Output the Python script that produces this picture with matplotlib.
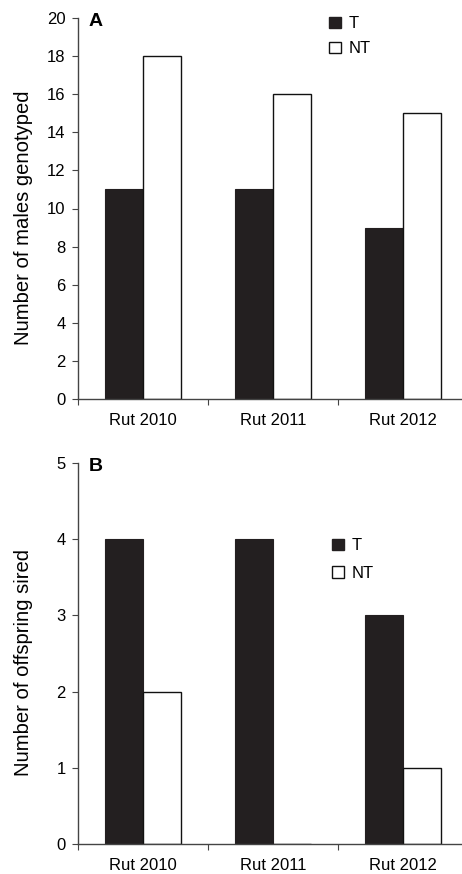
import matplotlib
matplotlib.use("Agg")
import matplotlib.pyplot as plt
from matplotlib.patches import Patch
import numpy as np

categories = ["Rut 2010", "Rut 2011", "Rut 2012"]
males_T = [11, 11, 9]
males_NT = [18, 16, 15]
offspring_T = [4, 4, 3]
offspring_NT = [2, 0, 1]

W, H = 462, 874
fig = plt.figure(figsize=(W/100, H/100), dpi=100)
plt.rcParams['font.family'] = ['Liberation Sans', 'DejaVu Sans']

dark = '#231f20'
bw = 38/130

def px(x0, y0, x1, y1):
    return [x0/W, 1 - y1/H, (x1-x0)/W, (y1-y0)/H]

def panel(rect, tvals, ntvals, ymax, ystep, ylabel, letter, leg_xy, lspace):
    ax = fig.add_axes(rect)
    x = np.arange(len(categories))
    ax.bar(x - bw/2, tvals, bw, color=dark, edgecolor=dark, linewidth=0.8, label='T')
    ax.bar(x + bw/2, ntvals, bw, color='white', edgecolor='#111111', linewidth=1.0, label='NT')
    ax.set_xlim(-0.5, 2.455)
    ax.set_ylim(0, ymax)
    ax.set_yticks(np.arange(0, ymax + 0.01, ystep))
    ax.set_xticks([-0.5, 0.5, 1.5])
    ax.set_xticklabels([])
    ax.set_xticks(x, minor=True)
    ax.set_xticklabels(categories, minor=True, fontsize=12)
    ax.tick_params(axis='x', which='minor', length=0, pad=10)
    ax.tick_params(axis='x', which='major', length=4, direction='out', color='#444444')
    ax.tick_params(axis='y', length=4, direction='out', labelsize=12, pad=5, color='#444444')
    for s in ['top', 'right']:
        ax.spines[s].set_visible(False)
    for s in ['left', 'bottom']:
        ax.spines[s].set_color('#444444')
        ax.spines[s].set_linewidth(1.0)
    ax.set_ylabel(ylabel, fontsize=14.6)
    ax.yaxis.set_label_coords(-0.117, 0.476)
    ax.text(0.028, 1.014, letter, transform=ax.transAxes, fontsize=14,
            fontweight='bold', va='top', ha='left')
    handles = [Patch(facecolor=dark, edgecolor=dark, label='T'),
               Patch(facecolor='white', edgecolor='#111111', label='NT')]
    ax.legend(handles=handles, loc='upper left', bbox_to_anchor=leg_xy,
              bbox_transform=fig.transFigure, frameon=False, fontsize=12,
              handlelength=0.7, handleheight=0.7, handletextpad=0.45,
              labelspacing=lspace, borderpad=0)
    return ax

panel(px(78, 18, 462, 399), males_T, males_NT, 20, 2,
      'Number of males genotyped', 'A', (321/W, 1 - 8/H), 0.6)
panel(px(78, 463, 462, 844), offspring_T, offspring_NT, 5, 1,
      'Number of offspring sired', 'B', (324/W, 1 - 530/H), 0.75)

fig.savefig('out.png', dpi=100)
